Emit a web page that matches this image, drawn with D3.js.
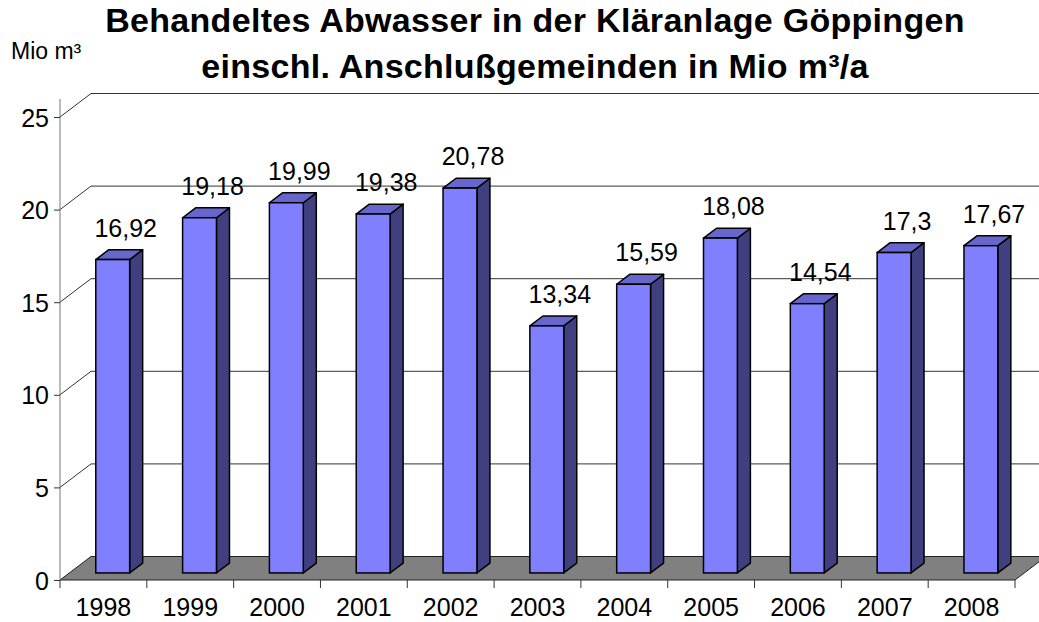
<!DOCTYPE html>
<html>
<head>
<meta charset="utf-8">
<title>Behandeltes Abwasser Göppingen</title>
<script src="https://cdn.jsdelivr.net/npm/d3@7/dist/d3.min.js"></script>
<style>
	html, body {
		margin: 0;
		padding: 0;
		background: #fff;
	}
	svg text {
		font-family: "Liberation Sans", Arial, Helvetica, sans-serif;
		fill: #000;
	}
</style>
</head>
<body>
<svg id="chart" width="1039" height="622"></svg>
<script>
// data
const years = ["1998", "1999", "2000", "2001", "2002", "2003", "2004", "2005", "2006", "2007", "2008"];
const values = [16.92, 19.18, 19.99, 19.38, 20.78, 13.34, 15.59, 18.08, 14.54, 17.3, 17.67];
const yTicks = [0, 5, 10, 15, 20, 25];
const titleLines = ["Behandeltes Abwasser in der Kläranlage Göppingen", "einschl. Anschlußgemeinden in Mio m³/a"];
const unitLabel = "Mio m³";

const svg = d3.select("#chart");

// front plane of the 3d box
const plotLeft = 60, plotRight = 1015, plotBottom = 580, plotTop = 117;
// depth offset of the back wall
const DX = 31, DY = -23.5;
const proj = (px, py, z) => [px + DX * z, py + DY * z];

const x = d3.scaleBand().domain(years).range([plotLeft, plotRight]);
const y = d3.scaleLinear().domain([0, 25]).range([plotBottom, plotTop]);

// back wall gridlines (incl. the diagonal on the left side wall)
svg.append("g")
	.selectAll("path")
	.data(yTicks.filter(t => t > 0))
	.join("path")
	.attr("d", t => {
		const a = proj(plotLeft, y(t), 0), b = proj(plotLeft, y(t), 1), c = proj(plotRight + 40, y(t), 1);
		return "M" + a + "L" + b + "L" + c;
	})
	.attr("fill", "none")
	.attr("stroke", "#333")
	.attr("stroke-width", 1);

const pts = arr => arr.map(p => p.join(",")).join(" ");

// floor
svg.append("polygon")
	.attr("points", pts([proj(plotLeft, y(0), 0), proj(plotRight, y(0), 0), proj(plotRight, y(0), 1), proj(plotLeft, y(0), 1)]))
	.attr("fill", "#808080")
	.attr("stroke", "#222")
	.attr("stroke-width", 1);

// y axis on the front left edge
const yAxis = svg.append("g")
	.attr("transform", `translate(${plotLeft},0)`)
	.call(d3.axisLeft(y).tickValues(yTicks).tickSize(6).tickPadding(5));
yAxis.select(".domain").attr("stroke", "#777").attr("d", `M0,${plotBottom}V${y(25) - 18}`);
yAxis.selectAll(".tick line").attr("stroke", "#333");
yAxis.selectAll("text").style("font-size", "25px").attr("dy", "0.36em");

// x axis: labels at category centres, tick marks at boundaries
const xAxis = svg.append("g")
	.attr("transform", `translate(0,${plotBottom})`)
	.call(d3.axisBottom(x).tickSize(0).tickPadding(27));
xAxis.select(".domain").remove();
xAxis.selectAll("text").style("font-size", "25px").attr("dy", "0.36em");

const bounds = years.map(d => x(d)).concat([plotRight]);
svg.append("g")
	.selectAll("line")
	.data(bounds)
	.join("line")
	.attr("x1", d => d).attr("x2", d => d)
	.attr("y1", plotBottom).attr("y2", plotBottom + 8)
	.attr("stroke", "#333");

// bars
const z0 = 0.3, z1 = 0.72;
const bw = x.bandwidth() * 0.39;
const bars = svg.append("g")
	.selectAll("g")
	.data(values.map((v, i) => ({ year: years[i], v })))
	.join("g");

bars.each(function (d) {
	const g = d3.select(this);
	const x0 = x(d.year) + (x.bandwidth() - bw) / 2, x1 = x0 + bw;
	const yb = y(0), yt = y(d.v);
	// side face
	g.append("polygon")
		.attr("points", pts([proj(x1, yt, z0), proj(x1, yt, z1), proj(x1, yb, z1), proj(x1, yb, z0)]))
		.attr("fill", "#404080").attr("stroke", "#000").attr("stroke-width", 1.5)
		.attr("stroke-linejoin", "round");
	// top face
	g.append("polygon")
		.attr("points", pts([proj(x0, yt, z0), proj(x1, yt, z0), proj(x1, yt, z1), proj(x0, yt, z1)]))
		.attr("fill", "#6666CC").attr("stroke", "#000").attr("stroke-width", 1.5)
		.attr("stroke-linejoin", "round");
	// front face
	const f = proj(x0, yt, z0);
	g.append("rect")
		.attr("x", f[0]).attr("y", f[1])
		.attr("width", bw).attr("height", yb - yt)
		.attr("fill", "#8080FF").attr("stroke", "#000").attr("stroke-width", 1.5);
	// value label
	const l = proj((x0 + x1) / 2, yt, z1);
	g.append("text")
		.attr("x", l[0]).attr("y", l[1] - 13)
		.attr("text-anchor", "middle")
		.style("font-size", "25px")
		.text(String(d.v).replace(".", ","));
});

// title
svg.append("g")
	.selectAll("text")
	.data(titleLines)
	.join("text")
	.attr("x", 535)
	.attr("y", (d, i) => 32 + i * 46)
	.attr("text-anchor", "middle")
	.style("font-size", "34px")
	.style("font-weight", "bold")
	.style("letter-spacing", "0.3px")
	.text(d => d);

svg.append("text")
	.attr("x", 11).attr("y", 59)
	.style("font-size", "23px")
	.text(unitLabel);
</script>
</body>
</html>
